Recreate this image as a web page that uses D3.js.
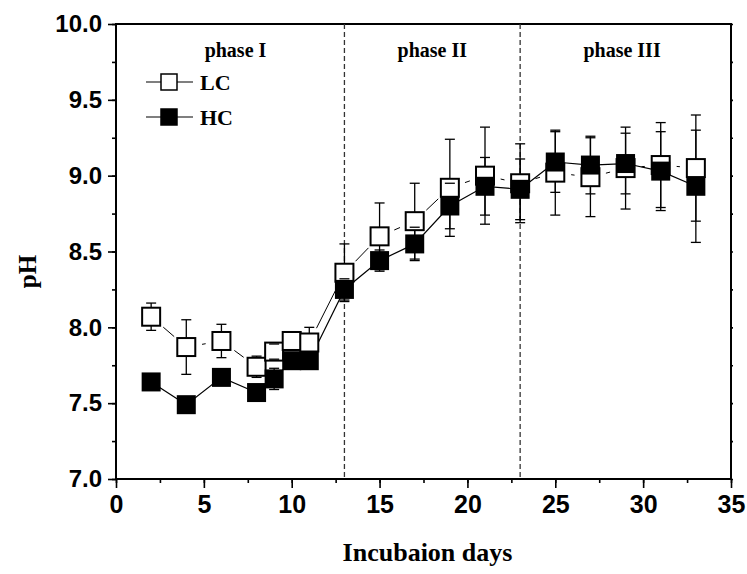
<!DOCTYPE html>
<html>
<head>
<meta charset="utf-8">
<script src="https://cdn.jsdelivr.net/npm/d3@7"></script>
<style>
  body { margin: 0; background: #fff; }
  .tick text { font-family: "Liberation Sans", Arial, sans-serif; font-weight: bold; fill: #000; }
  .domain { display: none; }
</style>
</head>
<body>
<div id="graph"></div>
<script>
// incubation days and pH readings (mean, error)
var days  = [2, 4, 6, 8, 9, 10, 11, 13, 15, 17, 19, 21, 23, 25, 27, 29, 31, 33]
var lcPH  = [8.07, 7.87, 7.91, 7.74, 7.84, 7.91, 7.90, 8.36, 8.60, 8.70, 8.92, 9.00, 8.95, 9.02, 8.99, 9.05, 9.07, 9.05]
var lcErr = [0.09, 0.18, 0.11, 0.07, 0.05, 0.06, 0.10, 0.19, 0.22, 0.25, 0.32, 0.32, 0.26, 0.28, 0.26, 0.27, 0.28, 0.35]
var hcPH  = [7.64, 7.49, 7.67, 7.57, 7.66, 7.78, 7.78, 8.25, 8.44, 8.55, 8.80, 8.93, 8.91, 9.09, 9.07, 9.08, 9.03, 8.93]
var hcErr = [0.03, 0.03, 0.03, 0.03, 0.07, 0.05, 0.04, 0.07, 0.07, 0.11, 0.15, 0.19, 0.20, 0.20, 0.19, 0.20, 0.26, 0.37]

var phaseBounds = [13, 23]
var phaseNames  = ["phase I", "phase II", "phase III"]
var phaseMid    = [6.8, 18, 28.8]

var xTicks = [0, 5, 10, 15, 20, 25, 30, 35]
var yTicks = [7.0, 7.5, 8.0, 8.5, 9.0, 9.5, 10.0]

var W = 747, H = 574
var margin = {top: 24, right: 16, bottom: 95, left: 116}
var width = W - margin.left - margin.right
var height = H - margin.top - margin.bottom

var xScale = d3.scaleLinear().domain([0, 35]).range([0, width])
var yScale = d3.scaleLinear().domain([7, 10]).range([height, 0])

var svg = d3.select("#graph").append("svg")
    .attr("width", W)
    .attr("height", H)
  .append("g")
    .attr("transform", "translate(" + margin.left + "," + margin.top + ")")

// minor ticks first
svg.append("g")
    .attr("transform", "translate(0," + height + ")")
    .call(d3.axisBottom(xScale).tickValues(d3.range(0, 35.1, 2.5)).tickSize(4).tickFormat(""))
svg.append("g")
    .call(d3.axisLeft(yScale).tickValues(d3.range(7, 10.01, 0.25)).tickSize(4).tickFormat(""))
svg.append("g")
    .attr("transform", "translate(" + width + ",0)")
    .call(d3.axisRight(yScale).tickValues(d3.range(7, 10.01, 0.25)).tickSize(2).tickFormat(""))

// major axes
var xAxis = svg.append("g")
    .attr("transform", "translate(0," + height + ")")
    .call(d3.axisBottom(xScale).tickValues(xTicks).tickSize(9).tickPadding(7).tickFormat(d3.format("d")))
xAxis.selectAll("text").style("font-size", "25px")

var yAxis = svg.append("g")
    .call(d3.axisLeft(yScale).tickValues(yTicks).tickSize(8).tickPadding(6).tickFormat(d3.format(".1f")))
yAxis.selectAll("text").style("font-size", "24px")

svg.selectAll(".tick line").attr("stroke", "#000").attr("stroke-width", 1.6)

// frame
svg.append("rect")
    .attr("width", width)
    .attr("height", height)
    .attr("fill", "none")
    .attr("stroke", "#000")
    .attr("stroke-width", 2)

// phase separators
svg.selectAll(".phase")
    .data(phaseBounds)
  .enter().append("line")
    .attr("x1", function(d) { return xScale(d) })
    .attr("x2", function(d) { return xScale(d) })
    .attr("y1", 0)
    .attr("y2", height)
    .attr("stroke", "#333")
    .attr("stroke-width", 1.3)
    .attr("stroke-dasharray", "5,3")

svg.selectAll(".phaseLabel")
    .data(phaseNames)
  .enter().append("text")
    .attr("x", function(d, i) { return xScale(phaseMid[i]) })
    .attr("y", 33)
    .attr("text-anchor", "middle")
    .style("font-family", "'Liberation Serif', 'Times New Roman', serif")
    .style("font-weight", "bold")
    .style("font-size", "20px")
    .text(function(d) { return d })

// connecting lines, LC has a gap around its symbols
function segments(vals, gap) {
  var segs = []
  for (var i = 0; i < days.length - 1; ++i) {
    var x1 = xScale(days[i]), y1 = yScale(vals[i])
    var x2 = xScale(days[i + 1]), y2 = yScale(vals[i + 1])
    var len = Math.sqrt((x2 - x1) * (x2 - x1) + (y2 - y1) * (y2 - y1))
    if (len <= 2 * gap) continue
    var ux = (x2 - x1) / len, uy = (y2 - y1) / len
    segs.push([x1 + ux * gap, y1 + uy * gap, x2 - ux * gap, y2 - uy * gap])
  }
  return segs
}

svg.selectAll(".lcLine")
    .data(segments(lcPH, 16))
  .enter().append("line")
    .attr("x1", function(d) { return d[0] })
    .attr("y1", function(d) { return d[1] })
    .attr("x2", function(d) { return d[2] })
    .attr("y2", function(d) { return d[3] })
    .attr("stroke", "#000")
    .attr("stroke-width", 1)

svg.append("path")
    .datum(hcPH)
    .attr("fill", "none")
    .attr("stroke", "#000")
    .attr("stroke-width", 1.2)
    .attr("d", d3.line().x(function(d, i) { return xScale(days[i]) }).y(function(d) { return yScale(d) }))

// error bar stems
function stems(vals, errs) {
  svg.selectAll(null)
      .data(vals)
    .enter().append("line")
      .attr("x1", function(d, i) { return xScale(days[i]) })
      .attr("x2", function(d, i) { return xScale(days[i]) })
      .attr("y1", function(d, i) { return yScale(d + errs[i]) })
      .attr("y2", function(d, i) { return yScale(d - errs[i]) })
      .attr("stroke", "#000")
      .attr("stroke-width", 1.3)
}
function caps(vals, errs) {
  var pts = []
  vals.forEach(function(d, i) {
    pts.push([days[i], d + errs[i]])
    pts.push([days[i], d - errs[i]])
  })
  svg.selectAll(null)
      .data(pts)
    .enter().append("line")
      .attr("x1", function(d) { return xScale(d[0]) - 5 })
      .attr("x2", function(d) { return xScale(d[0]) + 5 })
      .attr("y1", function(d) { return yScale(d[1]) })
      .attr("y2", function(d) { return yScale(d[1]) })
      .attr("stroke", "#000")
      .attr("stroke-width", 1.3)
}
stems(lcPH, lcErr)
stems(hcPH, hcErr)

var sz = 18
svg.selectAll(".lc")
    .data(lcPH)
  .enter().append("rect")
    .attr("x", function(d, i) { return xScale(days[i]) - sz / 2 })
    .attr("y", function(d) { return yScale(d) - sz / 2 })
    .attr("width", sz)
    .attr("height", sz)
    .attr("fill", "#fff")
    .attr("stroke", "#000")
    .attr("stroke-width", 2)

svg.selectAll(".hc")
    .data(hcPH)
  .enter().append("rect")
    .attr("x", function(d, i) { return xScale(days[i]) - (sz + 1) / 2 })
    .attr("y", function(d) { return yScale(d) - (sz + 1) / 2 })
    .attr("width", sz + 1)
    .attr("height", sz + 1)
    .attr("fill", "#000")

caps(lcPH, lcErr)
caps(hcPH, hcErr)

// legend
var legend = [{name: "LC", fill: "#fff", y: 58}, {name: "HC", fill: "#000", y: 93}]
var lg = svg.selectAll(".legend")
    .data(legend)
  .enter().append("g")
    .attr("transform", function(d) { return "translate(0," + d.y + ")" })
lg.append("line")
    .attr("x1", 30).attr("x2", 77)
    .attr("stroke", "#000").attr("stroke-width", 1.2)
lg.append("rect")
    .attr("x", 45).attr("y", -8).attr("width", 16).attr("height", 16)
    .attr("fill", function(d) { return d.fill })
    .attr("stroke", "#000").attr("stroke-width", 1.5)
lg.append("text")
    .attr("x", 84).attr("y", 8)
    .style("font-family", "'Liberation Serif', 'Times New Roman', serif")
    .style("font-weight", "bold")
    .style("font-size", "22px")
    .text(function(d) { return d.name })

// axis titles
svg.append("text")
    .attr("x", width / 2 + 4)
    .attr("y", height + 82)
    .attr("text-anchor", "middle")
    .style("font-family", "'Liberation Serif', 'Times New Roman', serif")
    .style("font-weight", "bold")
    .style("font-size", "26px")
    .text("Incubaion days")

svg.append("text")
    .attr("transform", "translate(" + (-80) + "," + (height / 2 + 20) + ") rotate(-90)")
    .attr("text-anchor", "middle")
    .style("font-family", "'Liberation Serif', 'Times New Roman', serif")
    .style("font-weight", "bold")
    .style("font-size", "25px")
    .text("pH")
</script>
</body>
</html>
